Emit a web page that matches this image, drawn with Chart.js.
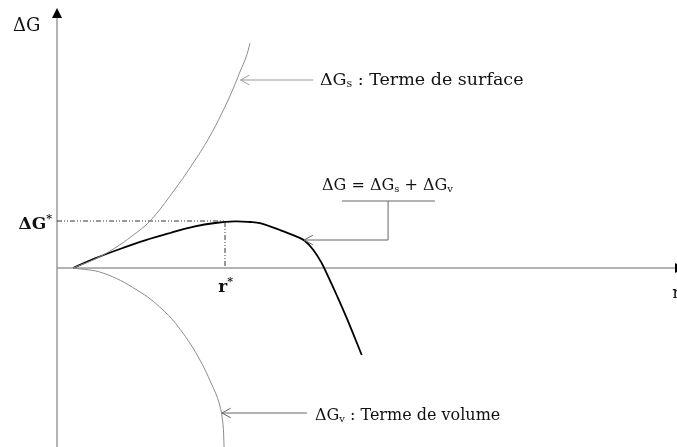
<!DOCTYPE html>
<html>
<head>
<meta charset="utf-8">
<script src="https://cdn.jsdelivr.net/npm/chart.js@4.4.1/dist/chart.umd.min.js"></script>
<style>
  html, body { margin: 0; padding: 0; background: #fff; }
  #box { width: 677px; height: 447px; }
</style>
</head>
<body>
<div id="box"><canvas id="myChart"></canvas></div>
<script>
// curves (r, G in arbitrary units)
const surfaceR = [0.52, 1.23, 1.87, 2.42, 3.0, 3.74, 4.35, 4.9, 5.32, 5.65, 5.9, 6.1, 6.23];
const surfaceG = [0, 0.45, 1.0, 1.6, 2.35, 3.8, 5.15, 6.5, 7.75, 8.85, 9.8, 10.55, 11.25];

const totalR = [0.52, 1.23, 2.03, 2.84, 3.65, 4.45, 5.1, 5.74, 6.23, 6.55, 7.19, 7.73, 8.0, 8.27, 8.54, 8.7, 9.02, 9.35, 9.83];
const totalG = [0, 0.48, 0.95, 1.38, 1.75, 2.08, 2.25, 2.33, 2.3, 2.24, 1.9, 1.57, 1.35, 0.9, 0.24, -0.27, -1.35, -2.52, -4.35];

const volumeR = [0.52, 1.48, 2.58, 3.42, 4.06, 4.61, 4.97, 5.23, 5.35, 5.39];
const volumeG = [0, -0.25, -1.1, -2.1, -3.25, -4.6, -5.75, -6.75, -7.75, -8.95];

const rStar = 5.42;
const gStar = 2.35;

const toPoints = (xs, ys) => xs.map((x, i) => ({x: x, y: ys[i]}));

const serif = '"DejaVu Serif", "Liberation Serif", serif';
const grey = '#9a9a9a';

function polyline(ctx, pts, color, head) {
	ctx.save();
	ctx.strokeStyle = color;
	ctx.lineWidth = 1;
	ctx.beginPath();
	ctx.moveTo(pts[0][0], pts[0][1]);
	for (let i = 1; i < pts.length; i++) ctx.lineTo(pts[i][0], pts[i][1]);
	ctx.stroke();
	if (head) {
		// open chevron at the last point
		const a = pts[pts.length - 2], b = pts[pts.length - 1];
		const ang = Math.atan2(b[1] - a[1], b[0] - a[0]);
		ctx.beginPath();
		ctx.moveTo(b[0] - 10 * Math.cos(ang - 0.5), b[1] - 10 * Math.sin(ang - 0.5));
		ctx.lineTo(b[0], b[1]);
		ctx.lineTo(b[0] - 10 * Math.cos(ang + 0.5), b[1] - 10 * Math.sin(ang + 0.5));
		ctx.stroke();
	}
	ctx.restore();
}

// text made of pieces, some of them subscript / superscript
function richText(ctx, parts, x, y, size, bold) {
	let cx = x;
	const w = bold ? 'bold ' : '';
	parts.forEach(p => {
		let s = size, dy = 0;
		if (p.sub) { s = Math.round(size * 0.62); dy = size * 0.12; }
		if (p.sup) { s = Math.round(size * 0.62); dy = -size * 0.4; }
		ctx.font = w + s + 'px ' + serif;
		ctx.fillText(p.t, cx, y + dy);
		cx += ctx.measureText(p.t).width;
	});
}

const drawing = {
	id: 'drawing',
	beforeDatasetsDraw(chart) {
		const ctx = chart.ctx;
		const xs = chart.scales.x, ys = chart.scales.y;
		const x0 = xs.getPixelForValue(0), y0 = ys.getPixelForValue(0);
		ctx.save();
		ctx.strokeStyle = grey;
		ctx.lineWidth = 1.5;
		ctx.beginPath();
		ctx.moveTo(x0, chart.height);
		ctx.lineTo(x0, chart.chartArea.top + 9);
		ctx.moveTo(x0, y0);
		ctx.lineTo(chart.width, y0);
		ctx.stroke();
		// arrow heads of the axes
		ctx.fillStyle = '#000';
		ctx.beginPath();
		ctx.moveTo(x0, chart.chartArea.top);
		ctx.lineTo(x0 - 5, chart.chartArea.top + 10);
		ctx.lineTo(x0 + 5, chart.chartArea.top + 10);
		ctx.closePath();
		ctx.fill();
		ctx.beginPath();
		ctx.moveTo(chart.width + 8, y0);
		ctx.lineTo(chart.width - 2, y0 - 5);
		ctx.lineTo(chart.width - 2, y0 + 5);
		ctx.closePath();
		ctx.fill();
		ctx.restore();
	},
	afterDatasetsDraw(chart) {
		const ctx = chart.ctx;
		const xs = chart.scales.x, ys = chart.scales.y;
		const px = r => xs.getPixelForValue(r);
		const py = g => ys.getPixelForValue(g);

		polyline(ctx, [[px(8.26), py(9.4)], [px(5.92), py(9.4)]], grey, true);
		polyline(ctx, [[px(9.19), py(3.35)], [px(12.19), py(3.35)]], '#666', false);
		polyline(ctx, [[px(10.68), py(3.35)], [px(10.68), py(1.4)], [px(7.97), py(1.4)]], '#666', true);
		polyline(ctx, [[px(8.06), py(-7.25)], [px(5.32), py(-7.25)]], '#666', true);

		ctx.save();
		ctx.fillStyle = '#111';
		ctx.textBaseline = 'alphabetic';
		ctx.textAlign = 'left';
		richText(ctx, [{t: 'ΔG'}], px(-1.42), py(11.85), 18, false);
		richText(ctx, [{t: 'ΔG'}, {t: '*', sup: true}], px(-1.24), py(1.95), 17, true);
		richText(ctx, [{t: 'r'}, {t: '*', sup: true}], px(5.2), py(-1.2), 17, true);
		richText(ctx, [{t: 'r'}], px(19.85), py(-1.5), 17, false);
		richText(ctx, [{t: 'ΔG'}, {t: 's', sub: true}, {t: ' : Terme de surface'}], px(8.48), py(9.15), 17.5, false);
		richText(ctx, [{t: 'ΔG = ΔG'}, {t: 's', sub: true}, {t: ' + ΔG'}, {t: 'v', sub: true}], px(8.55), py(3.9), 16, false);
		richText(ctx, [{t: 'ΔG'}, {t: 'v', sub: true}, {t: ' : Terme de volume'}], px(8.32), py(-7.6), 16, false);
		ctx.restore();
	}
};

const data = {
	datasets: [{
		label: 'ΔGs',
		data: toPoints(surfaceR, surfaceG),
		borderColor: '#8c8c8c',
		borderWidth: 1,
		tension: 0.4,
	}, {
		label: 'ΔGv',
		data: toPoints(volumeR, volumeG),
		borderColor: '#8c8c8c',
		borderWidth: 1,
		tension: 0.4,
	}, {
		label: 'ΔG*',
		data: [{x: 0, y: gStar}, {x: rStar, y: gStar}, {x: rStar, y: 0}],
		borderColor: '#333',
		borderWidth: 1,
		borderDash: [5, 2, 1, 2, 1, 2],
		tension: 0,
	}, {
		label: 'ΔG',
		data: toPoints(totalR, totalG),
		borderColor: '#000',
		borderWidth: 1.8,
		tension: 0.4,
	}]
};

const config = {
	type: 'line',
	data,
	options: {
		responsive: true,
		maintainAspectRatio: false,
		animation: false,
		layout: { padding: { left: 57, top: 8, right: 0, bottom: 0 } },
		elements: {
			point: { radius: 0, hoverRadius: 0 },
			line: { fill: false, capBezierPoints: false }
		},
		plugins: { legend: { display: false }, tooltip: { enabled: false } },
		scales: {
			x: { type: 'linear', min: 0, max: 20, display: false },
			y: { type: 'linear', min: -8.95, max: 13, display: false }
		}
	},
	plugins: [drawing]
};

var myChart = new Chart(document.getElementById('myChart'), config);
</script>
</body>
</html>
